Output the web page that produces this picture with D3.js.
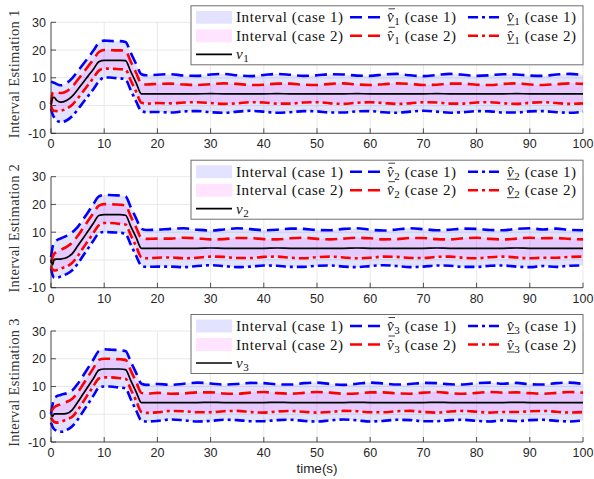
<!DOCTYPE html>
<html>
<head>
<meta charset="utf-8">
<script src="https://cdn.jsdelivr.net/npm/d3@7"></script>
<style>
  body { margin: 0; background: #fff; }
  svg { display: block; }
</style>
</head>
<body>
<svg id="chart" width="594" height="479"></svg>
<script>
// Sample times (s)
const time = [0, 0.3, 0.6, 1, 1.5, 2, 3, 4, 5, 6, 7, 8, 9, 10, 11, 12, 13, 14, 15, 16, 17, 18, 20,
  22.5, 25, 27.5, 30, 32.5, 35, 37.5, 40, 42.5, 45, 47.5, 50, 52.5, 55, 57.5, 60,
  62.5, 65, 67.5, 70, 72.5, 75, 77.5, 80, 82.5, 85, 87.5, 90, 92.5, 95, 97.5, 100];

const xTicks = [0, 10, 20, 30, 40, 50, 60, 70, 80, 90, 100];
const yTicks = [-10, 0, 10, 20, 30];

// ---- State 1 ----
const v1 = [0, 2.6, 3.0, 2.0, 1.4, 1.2, 1.9, 3.4, 5.7, 8.2, 10.7, 13.2, 15.8, 16.3, 16.3, 16.3, 16.3, 16.2, 12.2, 8.2, 4.2, 4.2, 4.2,
  4.2, 4.2, 4.2, 4.3, 4.2, 4.2, 4.2, 4.2, 4.3, 4.2, 4.2, 4.2, 4.2, 4.2, 4.3, 4.2, 4.2, 4.2, 4.2, 4.2, 4.3, 4.2, 4.2, 4.2, 4.2, 4.2, 4.3, 4.2, 4.2, 4.2, 4.2, 4.2];
const v1UpCase1 = [8.6, 8.4, 8.2, 7.8, 7.4, 7.3, 8.2, 9.9, 12.3, 14.8, 17.3, 19.9, 22.6, 23.4, 23.3, 23.2, 23.2, 22.9, 19.0, 15.0, 11.3, 10.9, 11.1,
  11.3, 10.8, 10.7, 11.2, 11.4, 10.9, 10.6, 11.0, 11.4, 11.1, 10.7, 10.9, 11.3, 11.2, 10.8, 10.7, 11.2, 11.4, 10.9, 10.6, 11.0, 11.4, 11.1, 10.7, 10.9, 11.3, 11.2, 10.8, 10.7, 11.2, 11.4, 11.0];
const v1LoCase1 = [-1.0, -3.2, -4.3, -5.2, -5.8, -5.9, -5.3, -3.8, -1.5, 1.0, 3.5, 6.0, 8.7, 10.1, 10.1, 9.9, 9.8, 9.4, 5.5, 1.5, -2.0, -2.4, -2.3,
  -2.5, -2.1, -2.0, -2.4, -2.6, -2.2, -1.9, -2.2, -2.6, -2.4, -2.0, -2.1, -2.5, -2.5, -2.1, -2.0, -2.4, -2.6, -2.2, -1.9, -2.2, -2.6, -2.4, -2.0, -2.1, -2.5, -2.5, -2.1, -2.0, -2.4, -2.6, -2.2];
const v1UpCase2 = [0.5, 4.6, 5.0, 4.9, 4.6, 4.5, 5.2, 6.8, 9.2, 11.7, 14.2, 16.7, 19.3, 20.0, 20.0, 19.9, 19.9, 19.7, 15.8, 11.8, 7.9, 7.6, 7.8,
  7.9, 7.6, 7.4, 7.7, 8.0, 7.8, 7.4, 7.5, 7.9, 7.9, 7.5, 7.4, 7.8, 8.0, 7.6, 7.4, 7.7, 8.0, 7.8, 7.4, 7.5, 7.9, 7.9, 7.5, 7.4, 7.8, 8.0, 7.6, 7.4, 7.7, 8.0, 7.8];
const v1LoCase2 = [0, -1.6, -1.9, -2.0, -1.9, -1.8, -1.0, 0.3, 2.5, 5.0, 7.5, 10.0, 12.6, 13.3, 13.3, 13.2, 13.1, 12.9, 9.0, 5.0, 1.0, 0.7, 0.9,
  0.8, 1.1, 1.2, 0.9, 0.6, 0.8, 1.2, 1.1, 0.7, 0.7, 1.1, 1.2, 0.8, 0.6, 1.0, 1.2, 0.9, 0.6, 0.8, 1.2, 1.1, 0.7, 0.7, 1.1, 1.2, 0.8, 0.6, 1.0, 1.2, 0.9, 0.6, 0.8];

// ---- State 2 ----
const v2 = [0, -1.8, 0.2, 0.3, 0.3, 0.4, 0.9, 2.3, 5.0, 7.7, 10.5, 13.3, 16.0, 16.3, 16.3, 16.3, 16.3, 16.1, 12.1, 8.1, 4.2, 4.2, 4.2,
  4.2, 4.2, 4.2, 4.3, 4.2, 4.2, 4.2, 4.2, 4.3, 4.2, 4.2, 4.2, 4.2, 4.2, 4.3, 4.2, 4.2, 4.2, 4.2, 4.2, 4.3, 4.2, 4.2, 4.2, 4.2, 4.2, 4.3, 4.2, 4.2, 4.2, 4.2, 4.2];
const v2UpCase1 = [1.0, 4.7, 6.3, 7.0, 7.5, 7.9, 8.8, 10.0, 11.8, 14.5, 17.3, 20.2, 22.9, 23.4, 23.4, 23.3, 23.2, 22.9, 19.0, 15.0, 11.2, 10.8, 10.9,
  11.2, 11.4, 10.9, 10.6, 11.0, 11.4, 11.1, 10.7, 10.9, 11.3, 11.2, 10.8, 10.7, 11.2, 11.4, 10.9, 10.6, 11.0, 11.4, 11.1, 10.7, 10.9, 11.3, 11.2, 10.8, 10.7, 11.2, 11.4, 11.0, 11.3, 10.8, 10.7];
const v2LoCase1 = [-3.0, -5.5, -6.3, -6.4, -6.2, -5.8, -5.0, -3.7, -1.4, 1.4, 4.2, 7.0, 9.6, 10.1, 10.0, 9.9, 9.8, 9.4, 5.5, 1.5, -2.1, -2.5, -2.4,
  -2.4, -2.6, -2.2, -1.9, -2.2, -2.6, -2.4, -2.0, -2.1, -2.5, -2.5, -2.1, -2.0, -2.4, -2.6, -2.2, -1.9, -2.2, -2.6, -2.4, -2.0, -2.1, -2.5, -2.5, -2.1, -2.0, -2.4, -2.6, -2.2, -2.5, -2.1, -2.0];
const v2UpCase2 = [-1.0, 1.0, 2.2, 2.8, 3.3, 3.8, 4.8, 6.3, 8.6, 11.4, 14.2, 17.0, 19.6, 20.1, 20.1, 20.0, 19.9, 19.6, 15.7, 11.7, 7.9, 7.6, 7.7,
  7.7, 8.0, 7.8, 7.4, 7.5, 7.9, 7.9, 7.5, 7.4, 7.8, 8.0, 7.6, 7.4, 7.7, 8.0, 7.8, 7.4, 7.5, 7.9, 7.9, 7.5, 7.4, 7.8, 8.0, 7.6, 7.4, 7.7, 8.0, 7.8, 7.9, 7.6, 7.4];
const v2LoCase2 = [-2.0, -3.5, -3.8, -3.7, -3.4, -3.0, -2.3, -1.0, 1.3, 4.2, 7.0, 9.8, 12.5, 13.3, 13.3, 13.2, 13.0, 12.8, 8.9, 4.9, 0.9, 0.6, 0.8,
  0.9, 0.6, 0.8, 1.2, 1.1, 0.7, 0.7, 1.1, 1.2, 0.8, 0.6, 1.0, 1.2, 0.9, 0.6, 0.8, 1.2, 1.1, 0.7, 0.7, 1.1, 1.2, 0.8, 0.6, 1.0, 1.2, 0.9, 0.6, 0.8, 0.8, 1.1, 1.2];

// ---- State 3 ----
const v3 = [0, -0.8, 0.1, 0.1, 0.1, 0.1, 0.3, 1.6, 4.3, 7.2, 10.1, 13.0, 15.9, 16.3, 16.3, 16.3, 16.3, 16.1, 12.1, 8.1, 4.2, 4.2, 4.2,
  4.2, 4.2, 4.2, 4.3, 4.2, 4.2, 4.2, 4.2, 4.3, 4.2, 4.2, 4.2, 4.2, 4.2, 4.3, 4.2, 4.2, 4.2, 4.2, 4.2, 4.3, 4.2, 4.2, 4.2, 4.2, 4.2, 4.3, 4.2, 4.2, 4.2, 4.2, 4.2];
const v3UpCase1 = [0.0, 3.5, 5.8, 6.4, 6.8, 7.1, 7.6, 8.6, 10.9, 13.8, 16.8, 19.8, 22.8, 23.4, 23.3, 23.2, 23.0, 22.8, 18.9, 14.9, 11.0, 10.6, 10.9,
  10.6, 11.0, 11.4, 11.1, 10.7, 10.9, 11.3, 11.2, 10.8, 10.7, 11.2, 11.4, 10.9, 10.6, 11.0, 11.4, 11.1, 10.7, 10.9, 11.3, 11.2, 10.8, 10.7, 11.2, 11.4, 11.0, 11.3, 10.8, 10.7, 11.2, 11.4, 10.9];
const v3LoCase1 = [-3.0, -4.5, -5.4, -5.9, -6.2, -6.3, -5.6, -4.3, -2.0, 0.9, 3.8, 6.8, 9.6, 10.0, 10.0, 9.8, 9.6, 9.3, 5.4, 1.4, -2.3, -2.6, -2.4,
  -1.9, -2.2, -2.6, -2.4, -2.0, -2.1, -2.5, -2.5, -2.1, -2.0, -2.4, -2.6, -2.2, -1.9, -2.2, -2.6, -2.4, -2.0, -2.1, -2.5, -2.5, -2.1, -2.0, -2.4, -2.6, -2.2, -2.5, -2.1, -2.0, -2.4, -2.6, -2.2];
const v3UpCase2 = [1.0, 1.8, 2.5, 3.0, 3.4, 3.7, 4.5, 5.6, 7.8, 10.7, 13.7, 16.7, 19.6, 20.0, 20.0, 19.9, 19.8, 19.6, 15.7, 11.7, 7.7, 7.4, 7.7,
  7.4, 7.5, 7.9, 7.9, 7.5, 7.4, 7.8, 8.0, 7.6, 7.4, 7.7, 8.0, 7.8, 7.4, 7.5, 7.9, 7.9, 7.5, 7.4, 7.8, 8.0, 7.6, 7.4, 7.7, 8.0, 7.8, 7.9, 7.6, 7.4, 7.7, 8.0, 7.8];
const v3LoCase2 = [-1.2, -2.2, -2.8, -3.0, -2.9, -2.6, -1.8, -0.9, 1.4, 4.3, 7.3, 10.2, 12.9, 13.3, 13.3, 13.2, 13.0, 12.8, 8.9, 4.9, 0.8, 0.5, 0.7,
  1.2, 1.1, 0.7, 0.7, 1.1, 1.2, 0.8, 0.6, 1.0, 1.2, 0.9, 0.6, 0.8, 1.2, 1.1, 0.7, 0.7, 1.1, 1.2, 0.8, 0.6, 1.0, 1.2, 0.9, 0.6, 0.8, 0.8, 1.1, 1.2, 0.9, 0.6, 0.8];

const panelTitles = ["Interval Estimation 1", "Interval Estimation 2", "Interval Estimation 3"];
const panels = [
  { idx: "1", v: v1, up1: v1UpCase1, lo1: v1LoCase1, up2: v1UpCase2, lo2: v1LoCase2 },
  { idx: "2", v: v2, up1: v2UpCase1, lo1: v2LoCase1, up2: v2UpCase2, lo2: v2LoCase2 },
  { idx: "3", v: v3, up1: v3UpCase1, lo1: v3LoCase1, up2: v3UpCase2, lo2: v3LoCase2 }
];

// ---- layout & styles ----
const svg = d3.select("#chart");
const left = 51, right = 583;
const tops = [22.3, 176.7, 331];
const plotH = 111;
const axisColor = "#262626";
const gridColor = "#e3e3e3";
const blue = "#0000ff", red = "#ff0000";
const fillCase1 = "rgba(0,0,255,0.11)";
const fillCase2 = "rgba(255,0,255,0.11)";
const dashStyle = "12,6";
const dashDotStyle = "10,4,3,4";
const serif = "'Liberation Serif', 'Times New Roman', serif";
const sans = "'Liberation Sans', Arial, Helvetica, sans-serif";

const x = d3.scaleLinear().domain([0, 100]).range([left, right]);

panels.forEach((p, k) => {
  const top = tops[k], bottom = top + plotH;
  const y = d3.scaleLinear().domain([-10, 30]).range([bottom, top]);
  const g = svg.append("g");

  // grid
  g.selectAll(".gx").data(xTicks).join("line")
    .attr("x1", d => x(d)).attr("x2", d => x(d))
    .attr("y1", top).attr("y2", bottom)
    .attr("stroke", gridColor).attr("stroke-width", 0.8);
  g.selectAll(".gy").data(yTicks).join("line")
    .attr("x1", left).attr("x2", right)
    .attr("y1", d => y(d)).attr("y2", d => y(d))
    .attr("stroke", gridColor).attr("stroke-width", 0.8);

  const rows = time.map((t, i) => ({ t, v: p.v[i], up1: p.up1[i], lo1: p.lo1[i], up2: p.up2[i], lo2: p.lo2[i] }));
  const curve = d3.curveMonotoneX;

  const band = (hi, lo) => d3.area().curve(curve)
    .x(d => x(d.t)).y0(d => y(d[lo])).y1(d => y(d[hi]));
  g.append("path").attr("d", band("up1", "lo1")(rows)).attr("fill", fillCase1);
  g.append("path").attr("d", band("up2", "lo2")(rows)).attr("fill", fillCase2);

  const line = key => d3.line().curve(curve).x(d => x(d.t)).y(d => y(d[key]));
  const series = [
    { key: "up1", color: blue, dash: dashStyle, w: 2.6 },
    { key: "lo1", color: blue, dash: dashDotStyle, w: 2.6 },
    { key: "up2", color: red, dash: dashStyle, w: 2.6 },
    { key: "lo2", color: red, dash: dashDotStyle, w: 2.6 },
    { key: "v", color: "#000", dash: null, w: 1.7 }
  ];
  series.forEach(s => {
    g.append("path").attr("d", line(s.key)(rows))
      .attr("fill", "none").attr("stroke", s.color)
      .attr("stroke-width", s.w)
      .attr("stroke-dasharray", s.dash);
  });

  // axes: left & bottom with inward ticks
  const ax = svg.append("g").attr("stroke", axisColor);
  ax.append("line").attr("x1", left).attr("x2", right).attr("y1", bottom).attr("y2", bottom).attr("stroke-width", 0.8);
  ax.append("line").attr("x1", left).attr("x2", left).attr("y1", top).attr("y2", bottom).attr("stroke-width", 0.8);
  ax.selectAll(".tx").data(xTicks).join("line")
    .attr("x1", d => x(d)).attr("x2", d => x(d))
    .attr("y1", bottom).attr("y2", bottom - 5).attr("stroke-width", 0.8);
  ax.selectAll(".ty").data(yTicks).join("line")
    .attr("x1", left).attr("x2", left + 5)
    .attr("y1", d => y(d)).attr("y2", d => y(d)).attr("stroke-width", 0.8);

  svg.append("g").selectAll("text").data(xTicks).join("text")
    .attr("x", d => x(d)).attr("y", bottom + 15)
    .attr("text-anchor", "middle").attr("font-family", sans).attr("font-size", 12.5)
    .attr("fill", axisColor).text(d => d);
  svg.append("g").selectAll("text").data(yTicks).join("text")
    .attr("x", left - 5).attr("y", d => y(d) + 4.5)
    .attr("text-anchor", "end").attr("font-family", sans).attr("font-size", 12.5)
    .attr("fill", axisColor).text(d => d);

  svg.append("text")
    .attr("transform", `translate(19,${top + plotH / 2 - 4}) rotate(-90)`)
    .attr("text-anchor", "middle").attr("font-family", serif).attr("font-size", 14.5)
    .attr("letter-spacing", 0.3)
    .attr("fill", "#333").text(panelTitles[k]);

  // legend
  const lg = svg.append("g");
  const lx = 191, ly = top - 16.5, lw = 392, lh = 59;
  lg.append("rect").attr("x", lx).attr("y", ly).attr("width", lw).attr("height", lh)
    .attr("fill", "#fff").attr("stroke", "#6e6e6e").attr("stroke-width", 1);
  const rowY = [ly + 11.5, ly + 30, ly + 48.5];
  const fs = 15;
  const ls = 0.6;

  const label = (tx, ty, str) => lg.append("text").attr("x", tx).attr("y", ty + 5)
    .attr("font-family", serif).attr("font-size", fs).attr("letter-spacing", ls)
    .attr("fill", "#111").text(str);

  // variable symbol: v with optional hat/bar/underline and subscript
  const symbol = (tx, ty, kind, suffix) => {
    const t = lg.append("text").attr("x", tx).attr("y", ty + 5)
      .attr("font-family", serif).attr("font-size", fs).attr("letter-spacing", ls).attr("fill", "#111");
    t.append("tspan").attr("font-style", "italic").text(kind === "plain" ? "v" : "v\u0302");
    t.append("tspan").attr("font-size", 11).attr("dy", 3).text(p.idx);
    t.append("tspan").attr("dy", -3).text(suffix);
    if (kind === "upper") {
      lg.append("line").attr("x1", tx + 1.5).attr("x2", tx + 8)
        .attr("y1", ty - 8.5).attr("y2", ty - 8.5).attr("stroke", "#111").attr("stroke-width", 0.8);
    }
    if (kind === "lower") {
      lg.append("line").attr("x1", tx).attr("x2", tx + 7.5)
        .attr("y1", ty + 7.5).attr("y2", ty + 7.5).attr("stroke", "#111").attr("stroke-width", 0.8);
    }
  };

  lg.append("rect").attr("x", 196).attr("y", rowY[0] - 6.5).attr("width", 36).attr("height", 13).attr("fill", fillCase1);
  lg.append("rect").attr("x", 196).attr("y", rowY[1] - 6.5).attr("width", 36).attr("height", 13).attr("fill", fillCase2);
  label(236, rowY[0], "Interval (case 1)");
  label(236, rowY[1], "Interval (case 2)");
  lg.append("line").attr("x1", 196).attr("x2", 232).attr("y1", rowY[2]).attr("y2", rowY[2])
    .attr("stroke", "#000").attr("stroke-width", 1.7);
  symbol(236, rowY[2], "plain", "");

  const sample = (x1, x2, yy, color, dash) => lg.append("line")
    .attr("x1", x1).attr("x2", x2).attr("y1", yy).attr("y2", yy)
    .attr("stroke", color).attr("stroke-width", 2.6).attr("stroke-dasharray", dash);
  sample(350, 382, rowY[0], blue, dashStyle);
  sample(350, 382, rowY[1], red, dashStyle);
  sample(468, 502, rowY[0], blue, dashDotStyle);
  sample(468, 502, rowY[1], red, dashDotStyle);
  symbol(387, rowY[0], "upper", " (case 1)");
  symbol(387, rowY[1], "upper", " (case 2)");
  symbol(507, rowY[0], "lower", " (case 1)");
  symbol(507, rowY[1], "lower", " (case 2)");
});

svg.append("text").attr("x", (left + right) / 2).attr("y", 473)
  .attr("text-anchor", "middle").attr("font-family", sans).attr("font-size", 13.5)
  .attr("fill", axisColor).text("time(s)");
</script>
</body>
</html>
